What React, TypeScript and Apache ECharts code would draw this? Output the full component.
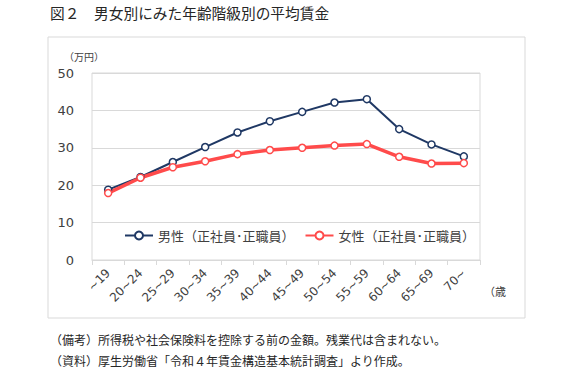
import React, { useEffect, useRef } from "react";
import * as echarts from "echarts";

const categories = ["~19", "20~24", "25~29", "30~34", "35~39", "40~44", "45~49", "50~54", "55~59", "60~64", "65~69", "70~"];
const maleValues = [18.8, 22.2, 26.2, 30.2, 34.1, 37.1, 39.6, 42.1, 43.0, 35.0, 30.9, 27.7];
const femaleValues = [17.9, 22.0, 24.8, 26.4, 28.3, 29.4, 30.0, 30.6, 31.0, 27.6, 25.8, 25.9];
const seriesNames = ["男性（正社員･正職員）", "女性（正社員･正職員）"];
const titleText = "図２　男女別にみた年齢階級別の平均賃金";
const noteLines = ["（備考）所得税や社会保険料を控除する前の金額。残業代は含まれない。", "（資料）厚生労働省「令和４年賃金構造基本統計調査」より作成。"];
const yUnit = "（万円）";
const xUnit = "（歳";

const JP = "'Noto Sans CJK JP', 'Noto Sans', sans-serif";
const NUM = "'DejaVu Sans', sans-serif";

export default function App() {
  const ref = useRef<HTMLDivElement>(null);
  useEffect(() => {
    if (!ref.current) return;
    const chart = echarts.init(ref.current, null, { renderer: "svg" });
    chart.setOption({
      animation: false,
      backgroundColor: "#ffffff",
      grid: { left: 92, right: 100, top: 73, bottom: 120, show: true, borderColor: "#d9d9d9", borderWidth: 1, containLabel: false },
      legend: {
        left: 119,
        top: 224,
        itemWidth: 28,
        itemHeight: 10,
        itemGap: 10,
        textStyle: { fontFamily: JP, fontSize: 13, color: "#404040" },
        data: seriesNames,
      },
      xAxis: {
        type: "category",
        data: categories,
        boundaryGap: true,
        axisLine: { lineStyle: { color: "#d9d9d9" } },
        axisTick: { show: true, length: 5, lineStyle: { color: "#d9d9d9" } },
        axisLabel: { rotate: 45, margin: 11, fontFamily: NUM, fontSize: 12, color: "#404040", interval: 0 },
      },
      yAxis: {
        type: "value",
        min: 0,
        max: 50,
        interval: 10,
        axisLine: { show: false },
        axisTick: { show: false },
        axisLabel: { fontFamily: NUM, fontSize: 13, color: "#404040", margin: 18 },
        splitLine: { lineStyle: { color: "#d9d9d9", width: 1 } },
      },
      series: [
        {
          name: seriesNames[0],
          type: "line",
          data: maleValues,
          symbol: "circle",
          symbolSize: 7,
          color: "#1f3864",
          lineStyle: { color: "#1f3864", width: 2 },
          itemStyle: { color: "#ffffff", borderColor: "#1f3864", borderWidth: 1.5 },
        },
        {
          name: seriesNames[1],
          type: "line",
          data: femaleValues,
          symbol: "circle",
          symbolSize: 7,
          color: "#ff4b4b",
          lineStyle: { color: "#ff4b4b", width: 3.5 },
          itemStyle: { color: "#ffffff", borderColor: "#ff4b4b", borderWidth: 1.5 },
        },
      ],
      graphic: [
        { type: "rect", shape: { x: 48, y: 37, width: 477, height: 281 }, style: { fill: "none", stroke: "#d9d9d9", lineWidth: 1 }, z: -10 },
        { type: "text", left: 50, top: 5, style: { text: titleText, font: `14.7px ${JP}`, fill: "#262626" } },
        { type: "text", left: 64, top: 51, style: { text: yUnit, font: `10px ${JP}`, fill: "#404040" } },
        { type: "text", left: 484, top: 285, style: { text: xUnit, font: `11px ${JP}`, fill: "#404040" } },
        { type: "text", left: 50, top: 333, style: { text: noteLines[0], font: `12px ${JP}`, fill: "#262626" } },
        { type: "text", left: 50, top: 354, style: { text: noteLines[1], font: `12px ${JP}`, fill: "#262626" } },
      ],
    });
    return () => chart.dispose();
  }, []);
  return <div ref={ref} style={{ position: "fixed", left: 0, top: 0, width: 580, height: 380 }} />;
}
